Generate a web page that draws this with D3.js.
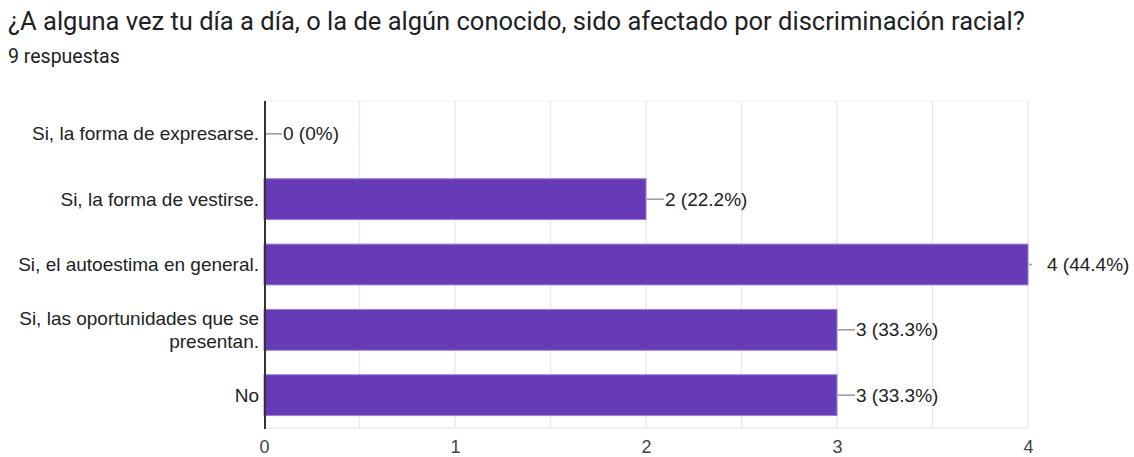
<!DOCTYPE html>
<html>
<head>
<meta charset="utf-8">
<script src="https://cdn.jsdelivr.net/npm/d3@7"></script>
<style>
  body { margin: 0; background: #fff; }
  svg { display: block; }
</style>
</head>
<body>
<div id="chart"></div>
<script>
// données
const titre = "¿A alguna vez tu día a día, o la de algún conocido, sido afectado por discriminación racial?";
const sousTitre = "9 respuestas";
const categories = [
  "Si, la forma de expresarse.",
  "Si, la forma de vestirse.",
  "Si, el autoestima en general.",
  "Si, las oportunidades que se presentan.",
  "No"
];
const valeurs = [0, 2, 4, 3, 3];
const etiquettes = ["0 (0%)", "2 (22.2%)", "4 (44.4%)", "3 (33.3%)", "3 (33.3%)"];
const ticksX = [0, 1, 2, 3, 4];
const grilleX = [0.5, 1, 1.5, 2, 2.5, 3, 3.5, 4];

const width = 1134;
const height = 457;
const margin = { top: 101, right: 106, bottom: 29, left: 265 };
const police = "Liberation Sans, Arial, sans-serif";

const svg = d3.select("#chart")
  .append("svg")
  .attr("width", width)
  .attr("height", height);

// titre
svg.append("text")
  .attr("x", 8)
  .attr("y", 30)
  .attr("font-family", "Roboto")
  .attr("font-size", 25.5)
  .attr("fill", "#202124")
  .text(titre);

svg.append("text")
  .attr("x", 8)
  .attr("y", 63)
  .attr("font-family", "Roboto")
  .attr("font-size", 19.5)
  .attr("fill", "#202124")
  .text(sousTitre);

const xScale = d3.scaleLinear()
  .domain([0, 4])
  .range([margin.left - 1, width - margin.right]);

const yScale = d3.scaleBand()
  .domain(categories)
  .range([margin.top, height - margin.bottom])
  .paddingInner(0.375)
  .paddingOuter(0.19);

// grille
svg.append("g")
  .selectAll("line")
  .data(grilleX)
  .join("line")
  .attr("x1", d => xScale(d))
  .attr("x2", d => xScale(d))
  .attr("y1", margin.top)
  .attr("y2", height - margin.bottom)
  .attr("stroke", "#ebebeb")
  .attr("stroke-width", 1.5);

svg.append("line")
  .attr("x1", margin.left)
  .attr("x2", xScale(4))
  .attr("y1", margin.top)
  .attr("y2", margin.top)
  .attr("stroke", "#f0f0f0");

svg.append("line")
  .attr("x1", margin.left)
  .attr("x2", xScale(4))
  .attr("y1", height - margin.bottom)
  .attr("y2", height - margin.bottom)
  .attr("stroke", "#ebebeb")
  .attr("stroke-width", 1.5);

// barres
const lignes = categories.map((c, i) => ({ c, v: valeurs[i], e: etiquettes[i] }));

svg.append("g")
  .selectAll("rect")
  .data(lignes.filter(d => d.v > 0))
  .join("rect")
  .attr("x", xScale(0))
  .attr("y", d => yScale(d.c))
  .attr("width", d => xScale(d.v) - xScale(0))
  .attr("height", yScale.bandwidth())
  .attr("fill", "#673ab7")
  .attr("stroke", "#9b7fd4")
  .attr("stroke-width", 1);

// étiquettes de valeur avec trait
const maxVal = d3.max(valeurs);
const etiq = svg.append("g");
lignes.forEach(d => {
  const x0 = xScale(d.v) + 1;
  const yc = yScale(d.c) + yScale.bandwidth() / 2;
  const trait = d.v === maxVal ? 3 : 17;
  etiq.append("line")
    .attr("x1", x0)
    .attr("x2", x0 + trait)
    .attr("y1", yc)
    .attr("y2", yc)
    .attr("stroke", "#999")
    .attr("stroke-width", 1.5);
  etiq.append("text")
    .attr("x", x0 + 18)
    .attr("y", yc)
    .attr("dy", "0.35em")
    .attr("font-family", police)
    .attr("font-size", 19)
    .attr("fill", "#222")
    .text(d.e);
});

// étiquettes des catégories (retour à la ligne)
const labels = svg.append("g");
categories.forEach(c => {
  const words = c.split(" ");
  const lines = [];
  let cur = "";
  const probe = labels.append("text")
    .attr("font-family", police)
    .attr("font-size", 19);
  words.forEach(w => {
    const test = cur ? cur + " " + w : w;
    probe.text(test);
    if (probe.node().getComputedTextLength() > 245 && cur) {
      lines.push(cur);
      cur = w;
    } else {
      cur = test;
    }
  });
  lines.push(cur);
  probe.remove();
  const yc = yScale(c) + yScale.bandwidth() / 2;
  const lh = 23;
  lines.forEach((l, k) => {
    labels.append("text")
      .attr("x", margin.left - 6)
      .attr("y", yc + (k - (lines.length - 1) / 2) * lh)
      .attr("dy", "0.35em")
      .attr("text-anchor", "end")
      .attr("font-family", police)
      .attr("font-size", 19)
      .attr("fill", "#222")
      .text(l);
  });
});

// axe vertical
svg.append("line")
  .attr("x1", margin.left)
  .attr("x2", margin.left)
  .attr("y1", margin.top)
  .attr("y2", height - margin.bottom + 1)
  .attr("stroke", "#333")
  .attr("stroke-width", 2);

// axe X
const xAxis = d3.axisBottom(xScale)
  .tickValues(ticksX)
  .tickFormat(d3.format("d"))
  .tickSize(0)
  .tickPadding(0);
const gx = svg.append("g")
  .attr("transform", `translate(0, ${height - margin.bottom})`)
  .call(xAxis);
gx.select(".domain").remove();
gx.selectAll("text")
  .attr("y", 25)
  .attr("dy", 0)
  .attr("font-family", police)
  .attr("font-size", 18)
  .attr("fill", "#444");
</script>
</body>
</html>
